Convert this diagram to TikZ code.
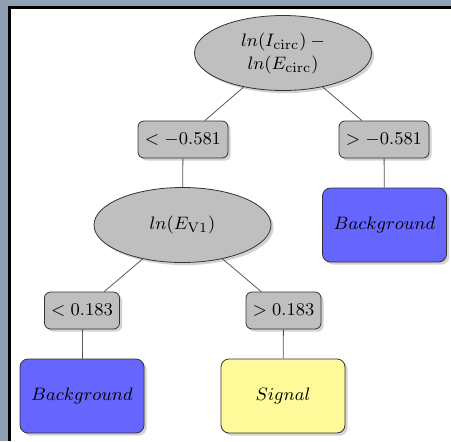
\documentclass[tikz,border=0pt]{standalone}
\usetikzlibrary{shapes.geometric,shadows}
\definecolor{screenblue}{HTML}{8FA0B5}
\begin{document}
\begin{tikzpicture}[
    x=0.5pt, y=-0.5pt,
    font=\fontsize{9.5pt}{11.5pt}\selectfont,
    shade/.style={drop shadow={opacity=0.35, shadow xshift=1.3pt, shadow yshift=-1.3pt}},
    cut/.style={ellipse, draw=black!80, fill=black!25, shade, align=center,
      minimum width=88.5pt, minimum height=37.5pt, inner sep=0pt},
    branch/.style={rectangle, draw=black!80, fill=black!25, shade,
      rounded corners=3pt, minimum height=18.5pt, inner sep=1pt},
    leaf/.style={rectangle, draw=black!80, shade, rounded corners=4pt,
      minimum width=62pt, minimum height=37pt},
    bkg/.style={leaf, fill=blue!60},
    sig/.style={leaf, fill=yellow!40},
    link/.style={black!65, thin}]

  % screen around the figure
  \fill [screenblue] (0,0) rectangle (451,441);
  \fill [black] (8,6) rectangle (451,441);
  \fill [white] (10.5,8.5) rectangle (451,441);
  \useasboundingbox (0,0) rectangle (451,441);

  \node [cut] (root) at (283,53)
    {$ln(I_{\mathrm{circ}})\mskip\medmuskip-$\\$ln(E_{\mathrm{circ}})$};
  \node [branch, minimum width=45pt] (lo1) at (183,139.5) {$<-0.581$};
  \node [branch, minimum width=45pt] (hi1) at (384,139.5) {$>-0.581$};
  \node [cut] (ev) at (182.5,225) {$ln(E_{\mathrm{V1}})$};
  \node [bkg] (bkgA) at (384.5,225) {$Background$};
  \node [branch, minimum width=37.5pt] (lo2) at (82,310.5) {$<0.183$};
  \node [branch, minimum width=37.5pt] (hi2) at (283.5,310.5) {$>0.183$};
  \node [bkg] (bkgB) at (82,396) {$Background$};
  \node [sig] (sig) at (283,396) {$Signal$};

  \foreach \a/\b in {root/lo1, root/hi1, lo1/ev, hi1/bkgA,
                     ev/lo2, ev/hi2, lo2/bkgB, hi2/sig}
    \draw [link] (\a) -- (\b);
\end{tikzpicture}
\end{document}
